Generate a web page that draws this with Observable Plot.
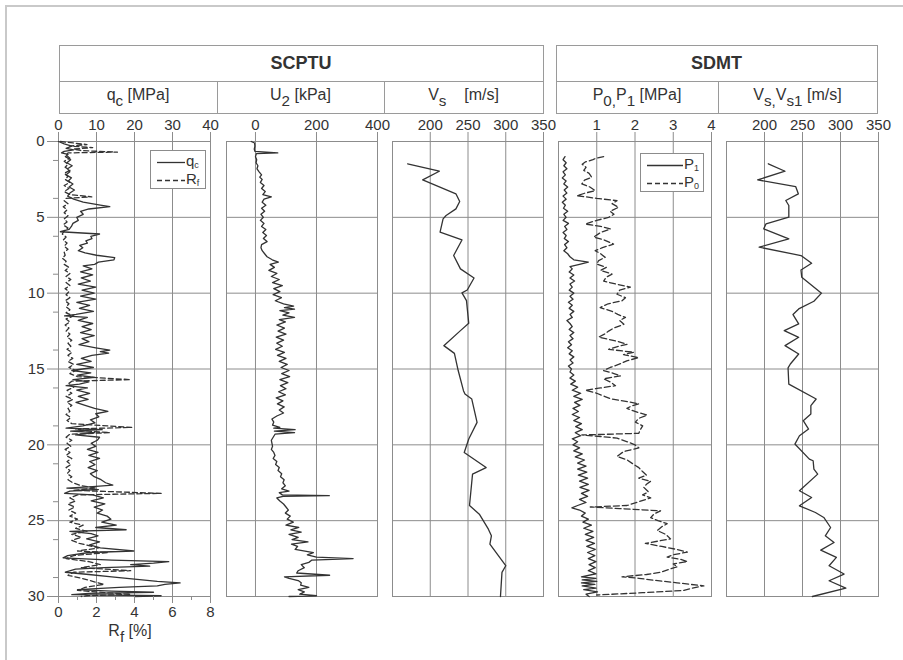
<!DOCTYPE html>
<html><head><meta charset="utf-8">
<script src="https://cdn.jsdelivr.net/npm/d3@7"></script>
<script src="https://cdn.jsdelivr.net/npm/@observablehq/plot@0.6"></script>
<style>
body{margin:0;background:#fff;}
#fig{position:relative;width:903px;height:660px;overflow:hidden;font-family:"Liberation Sans",Arial,sans-serif;color:#333;background:#fff;}
.box{position:absolute;box-sizing:border-box;}
.txt{position:absolute;display:flex;align-items:center;justify-content:center;white-space:pre;}
.txt sub{font-size:0.95em;vertical-align:-0.38em;line-height:0;}
.lg{position:absolute;box-sizing:border-box;border:1px solid #8c8c8c;background:#fff;font-size:15px;}
.lg div{position:absolute;white-space:nowrap;}
</style></head><body><div id="fig"></div>
<script>
// ---------------- DATA ----------------
const depthGrid = [5, 10, 15, 20, 25];
const depthTicks = [0, 5, 10, 15, 20, 25, 30];
const depthMinor = [1.25, 3.75, 6.25, 8.75, 11.25, 13.75, 16.25, 18.75, 21.25, 23.75, 26.25, 28.75];
const qcTicks = [0, 10, 20, 30, 40];
const rfTicks = [0, 2, 4, 6, 8];
const rfMinor = [1, 3, 5, 7];
const u2Ticks = [0, 200, 400];
const vsTicks = [200, 250, 300, 350];
const pTicks = [1, 2, 3, 4];

// [depth m, qc MPa]
const qc = [[0,0],[0.15,1.5],[0.3,3.5],[0.45,2],[0.55,4],[0.65,1.5],[0.75,0.8],[0.85,2.5],[1.0,1.8],[1.2,3.2],[1.4,2.2],[1.6,3.6],[1.8,2.4],[2.0,3.0],[2.2,2.0],[2.4,3.4],[2.6,2.6],[2.8,3.8],[3.0,2.8],[3.2,4.2],[3.4,3.0],[3.6,2.4],[3.8,4.0],[4.0,6.5],[4.2,11],[4.3,13.5],[4.45,8],[4.6,5.8],[4.8,6.5],[5.0,4.8],[5.2,5.2],[5.4,3.8],[5.6,3.4],[5.8,2.8],[5.95,0.5],[6.1,10.8],[6.25,8.5],[6.4,8.8],[6.55,7.2],[6.7,7.6],[6.85,5.6],[7.0,6.4],[7.2,5.2],[7.35,7.0],[7.5,10],[7.65,14.8],[7.8,14.6],[7.95,10.5],[8.1,9.5],[8.2,6.5],[8.4,8.8],[8.6,5.8],[8.8,9.0],[9.0,6.0],[9.2,8.4],[9.4,5.2],[9.6,9.8],[9.8,6.2],[10.0,9.4],[10.2,5.8],[10.4,9.8],[10.6,4.8],[10.8,8.2],[11.0,5.5],[11.2,9.2],[11.4,4.6],[11.5,1.6],[11.6,7.6],[11.8,5.2],[12.0,9.0],[12.2,6.2],[12.4,8.6],[12.6,5.8],[12.8,9.4],[13.0,6.2],[13.2,8.0],[13.4,5.4],[13.6,9.8],[13.75,13.5],[13.85,11],[13.95,13.2],[14.1,8.8],[14.3,6.0],[14.5,8.6],[14.7,4.8],[14.9,9.2],[15.1,3.5],[15.25,8.5],[15.4,5.0],[15.55,9.5],[15.7,3.8],[15.85,8.0],[16.0,5.5],[16.1,2.0],[16.25,7.6],[16.4,4.8],[16.6,8.2],[16.8,5.2],[17.0,7.8],[17.2,4.6],[17.4,7.0],[17.6,9.5],[17.8,13.0],[17.95,9.8],[18.15,10.6],[18.35,8.4],[18.55,9.6],[18.75,6.4],[18.9,2.0],[19.0,11.5],[19.1,3.2],[19.2,9.5],[19.35,4.5],[19.5,10.8],[19.7,10.2],[19.9,8.6],[20.1,9.8],[20.3,7.6],[20.5,10.4],[20.7,8.0],[20.9,10.8],[21.1,8.2],[21.3,9.6],[21.5,7.8],[21.7,10.2],[21.9,8.4],[22.1,9.4],[22.3,11.2],[22.5,12.4],[22.65,14.3],[22.75,9.0],[22.85,2.2],[22.95,10.5],[23.05,3.0],[23.2,1.6],[23.3,9.0],[23.5,11.8],[23.7,8.6],[23.9,12.2],[24.1,9.4],[24.3,11.6],[24.5,10.2],[24.7,12.8],[24.9,13.8],[25.1,11.4],[25.3,15.2],[25.45,9.8],[25.6,17.8],[25.7,3.0],[25.85,8.6],[26.0,10.4],[26.2,7.4],[26.4,10.8],[26.6,8.2],[26.8,11.0],[27.0,19.8],[27.1,8.0],[27.3,2.4],[27.45,1.2],[27.6,14],[27.7,29],[27.8,25],[27.9,19],[28.0,24],[28.1,12],[28.2,4.5],[28.4,1.8],[28.55,8],[28.7,14],[28.85,20],[29.0,26],[29.1,32],[29.2,28],[29.3,26],[29.4,16],[29.55,5.0],[29.65,14],[29.72,25],[29.8,8],[29.88,3.5],[29.95,27],[30.0,20]];

// [depth m, Rf %]
const rf = [[0,0.1],[0.1,0.8],[0.2,1.5],[0.3,0.6],[0.4,1.8],[0.5,0.8],[0.6,1.2],[0.7,3.1],[0.75,0.5],[0.9,0.4],[1.1,0.6],[1.3,0.3],[1.5,0.5],[1.7,0.35],[1.9,0.6],[2.1,0.3],[2.3,0.5],[2.5,0.35],[2.7,0.6],[2.9,0.3],[3.1,0.55],[3.3,0.3],[3.5,0.6],[3.65,1.75],[3.75,0.4],[3.9,0.3],[4.1,0.5],[4.3,0.25],[4.5,0.45],[4.7,0.3],[4.9,0.5],[5.1,0.3],[5.3,0.45],[5.5,0.25],[5.7,0.5],[5.9,0.3],[6.1,0.2],[6.3,0.4],[6.5,0.25],[6.7,0.45],[6.9,0.3],[7.1,0.5],[7.3,0.3],[7.5,0.35],[7.7,0.2],[7.9,0.4],[8.1,0.3],[8.3,0.55],[8.5,0.35],[8.7,0.6],[8.9,0.4],[9.1,0.65],[9.3,0.4],[9.5,0.6],[9.7,0.35],[9.9,0.55],[10.1,0.4],[10.3,0.6],[10.5,0.35],[10.7,0.55],[10.9,0.4],[11.1,0.6],[11.3,0.4],[11.5,0.8],[11.7,0.4],[11.9,0.6],[12.1,0.35],[12.3,0.55],[12.5,0.4],[12.7,0.6],[12.9,0.45],[13.1,0.7],[13.3,0.5],[13.5,0.65],[13.7,0.45],[13.9,0.7],[14.1,0.5],[14.3,0.75],[14.5,0.5],[14.7,0.8],[14.9,0.55],[15.1,0.9],[15.3,0.6],[15.5,1.0],[15.7,3.8],[15.8,0.7],[16.0,0.5],[16.2,0.8],[16.4,0.45],[16.6,0.7],[16.8,0.4],[17.0,0.75],[17.2,0.45],[17.4,0.7],[17.6,0.5],[17.8,0.6],[18.0,0.4],[18.2,0.65],[18.4,0.45],[18.6,0.7],[18.85,3.85],[18.95,0.9],[19.1,1.6],[19.2,2.7],[19.3,0.6],[19.5,0.4],[19.7,0.7],[19.9,0.45],[20.1,0.65],[20.3,0.35],[20.5,0.6],[20.7,0.4],[20.9,0.7],[21.1,0.45],[21.3,0.65],[21.5,0.4],[21.7,0.6],[21.9,0.45],[22.1,0.7],[22.3,0.5],[22.5,0.75],[22.7,1.2],[22.85,2.0],[23.0,0.8],[23.2,5.4],[23.3,1.0],[23.5,0.6],[23.7,0.9],[23.9,0.5],[24.1,0.85],[24.3,0.55],[24.5,0.9],[24.7,0.6],[24.9,1.0],[25.1,0.6],[25.3,1.3],[25.5,0.9],[25.7,1.5],[25.9,0.7],[26.1,1.2],[26.3,0.7],[26.5,1.1],[26.7,1.8],[26.8,2.1],[27.0,1.0],[27.1,2.6],[27.3,0.8],[27.5,0.4],[27.7,1.6],[27.9,2.2],[28.1,1.2],[28.3,3.8],[28.4,0.8],[28.6,0.5],[28.8,1.2],[29.0,1.8],[29.2,2.4],[29.4,1.4],[29.6,1.0],[29.75,2.5],[29.85,3.8],[29.95,1.5],[30.0,1.2]];

// [depth m, U2 kPa]
const u2 = [[0,-14],[0.1,-3],[0.3,-2],[0.5,-4],[0.65,-2],[0.75,73],[0.8,3],[1.0,0],[1.2,4],[1.4,2],[1.6,8],[1.8,5],[2.0,12],[2.2,20],[2.35,14],[2.5,22],[2.7,16],[2.9,28],[3.1,20],[3.3,32],[3.5,24],[3.65,52],[3.8,28],[4.0,22],[4.2,34],[4.4,20],[4.6,30],[4.8,18],[5.0,26],[5.2,16],[5.4,28],[5.6,20],[5.8,34],[6.0,24],[6.2,36],[6.4,26],[6.6,38],[6.8,20],[7.0,18],[7.2,22],[7.4,30],[7.6,38],[7.8,55],[7.95,75],[8.1,48],[8.3,62],[8.5,44],[8.7,70],[8.9,52],[9.1,78],[9.3,56],[9.5,88],[9.7,60],[9.9,80],[10.1,58],[10.3,85],[10.5,65],[10.7,92],[10.85,125],[10.95,95],[11.05,128],[11.15,80],[11.3,110],[11.45,90],[11.6,128],[11.75,78],[11.9,98],[12.1,70],[12.3,95],[12.5,74],[12.7,100],[12.9,68],[13.1,92],[13.3,70],[13.5,88],[13.7,66],[13.9,95],[14.1,72],[14.3,100],[14.5,78],[14.7,104],[14.9,84],[15.1,110],[15.3,86],[15.5,112],[15.7,80],[15.9,106],[16.1,82],[16.3,100],[16.5,76],[16.7,98],[16.9,68],[17.1,90],[17.3,72],[17.5,94],[17.7,78],[17.9,92],[18.1,70],[18.3,54],[18.5,60],[18.7,56],[18.85,80],[18.9,60],[19.0,130],[19.1,62],[19.2,128],[19.3,64],[19.5,58],[19.7,52],[19.9,54],[20.1,56],[20.3,52],[20.5,60],[20.7,64],[20.9,58],[21.1,70],[21.3,66],[21.5,78],[21.7,74],[21.9,86],[22.1,82],[22.3,94],[22.5,90],[22.7,98],[22.9,86],[23.05,110],[23.15,78],[23.3,88],[23.35,242],[23.4,90],[23.5,70],[23.7,80],[23.9,92],[24.1,100],[24.3,108],[24.5,98],[24.7,114],[24.9,104],[25.1,124],[25.3,100],[25.45,142],[25.6,116],[25.75,150],[25.9,110],[26.1,140],[26.25,120],[26.4,172],[26.55,118],[26.7,138],[26.9,130],[27.1,190],[27.25,170],[27.4,200],[27.5,320],[27.6,185],[27.75,175],[27.9,150],[28.1,160],[28.3,140],[28.45,135],[28.6,243],[28.7,95],[28.8,110],[28.95,140],[29.1,150],[29.25,148],[29.4,175],[29.55,140],[29.7,160],[29.85,145],[29.95,200],[30.0,110]];

// [depth m, Vs m/s] SCPTU
const vsCptu = [[1.47,170],[1.96,212],[2.53,190],[3.45,234],[3.96,239],[4.44,234],[4.88,221],[5.1,217],[5.98,213],[6.49,242],[7.52,231],[8.4,240],[9.0,258],[9.79,249],[9.98,242],[10.49,248],[11.99,251],[12.47,240],[13.46,218],[13.97,232],[15.1,237],[16.43,244],[16.65,246],[16.98,255],[18.52,262],[19.62,251],[20.5,245],[21.5,274],[21.93,256],[24.0,252],[24.57,265],[25.56,277],[26.0,281],[26.55,279],[27.97,300],[28.41,295],[30.0,293]];

// [depth m, P MPa] solid line (legend P1)
const p1 = [[1.0,0.17],[1.2,0.12],[1.4,0.2],[1.6,0.14],[1.8,0.22],[2.0,0.12],[2.2,0.18],[2.4,0.1],[2.6,0.2],[2.8,0.14],[3.0,0.24],[3.2,0.15],[3.4,0.22],[3.6,0.12],[3.8,0.2],[4.0,0.1],[4.2,0.18],[4.4,0.13],[4.6,0.24],[4.8,0.14],[5.0,0.2],[5.2,0.12],[5.4,0.26],[5.6,0.16],[5.8,0.22],[6.0,0.12],[6.2,0.2],[6.4,0.15],[6.6,0.26],[6.8,0.16],[7.0,0.22],[7.2,0.14],[7.4,0.24],[7.6,0.3],[7.8,0.4],[7.95,0.78],[8.1,0.55],[8.25,0.3],[8.4,0.36],[8.6,0.28],[8.8,0.4],[9.0,0.3],[9.2,0.42],[9.4,0.3],[9.6,0.36],[9.8,0.28],[10.0,0.4],[10.2,0.3],[10.4,0.38],[10.6,0.26],[10.8,0.36],[11.0,0.28],[11.2,0.4],[11.4,0.3],[11.6,0.36],[11.8,0.22],[12.0,0.3],[12.2,0.36],[12.4,0.28],[12.6,0.4],[12.8,0.3],[13.0,0.38],[13.2,0.26],[13.4,0.34],[13.6,0.24],[13.8,0.36],[14.0,0.28],[14.2,0.4],[14.4,0.3],[14.6,0.38],[14.8,0.26],[15.0,0.34],[15.2,0.3],[15.4,0.4],[15.6,0.3],[15.8,0.44],[16.0,0.32],[16.2,0.5],[16.4,0.36],[16.6,0.58],[16.8,0.4],[17.0,0.62],[17.2,0.42],[17.4,0.56],[17.6,0.38],[17.8,0.52],[18.0,0.36],[18.2,0.55],[18.4,0.4],[18.6,0.6],[18.8,0.45],[19.0,0.62],[19.2,0.44],[19.4,0.58],[19.6,0.36],[19.8,0.5],[20.0,0.38],[20.2,0.55],[20.4,0.4],[20.6,0.62],[20.8,0.44],[21.0,0.68],[21.2,0.5],[21.4,0.72],[21.6,0.5],[21.8,0.74],[22.0,0.52],[22.2,0.76],[22.4,0.55],[22.6,0.78],[22.8,0.56],[23.0,0.8],[23.2,0.6],[23.4,0.76],[23.6,0.55],[23.8,0.72],[24.0,0.5],[24.15,0.35],[24.3,0.55],[24.5,0.7],[24.7,0.6],[24.9,0.78],[25.1,0.64],[25.3,0.86],[25.5,0.66],[25.7,0.9],[25.9,0.7],[26.1,0.92],[26.3,0.72],[26.5,0.94],[26.7,0.74],[26.9,0.96],[27.1,0.76],[27.3,0.95],[27.5,0.78],[27.7,0.98],[27.9,0.8],[28.1,0.96],[28.3,0.78],[28.5,0.98],[28.7,0.6],[28.8,0.98],[28.9,0.62],[29.0,1.0],[29.1,0.6],[29.2,0.95],[29.3,0.62],[29.45,0.98],[29.55,0.66],[29.7,1.02],[29.85,0.72],[30.0,0.8]];

// [depth m, P MPa] dashed line (legend P0)
const p0 = [[1.0,1.18],[1.1,0.98],[1.2,0.9],[1.35,0.7],[1.5,0.62],[1.7,0.72],[1.9,0.66],[2.1,0.8],[2.36,0.87],[2.55,0.68],[2.8,0.61],[3.0,0.82],[3.24,0.96],[3.4,0.7],[3.57,0.48],[3.75,1.0],[3.9,1.53],[4.1,1.4],[4.34,1.57],[4.6,1.35],[4.8,1.45],[5.0,1.31],[5.2,1.0],[5.44,0.7],[5.6,1.1],[5.77,1.36],[6.0,1.1],[6.3,0.92],[6.5,1.2],[6.76,1.44],[7.0,1.15],[7.2,0.96],[7.4,1.1],[7.64,1.22],[7.85,1.05],[8.08,1.0],[8.3,1.25],[8.5,1.1],[8.74,1.4],[8.95,1.25],[9.2,1.18],[9.4,1.5],[9.6,1.88],[9.8,1.6],[10.07,1.53],[10.3,1.75],[10.5,1.66],[10.7,1.3],[10.95,1.09],[11.2,1.4],[11.4,1.55],[11.6,1.75],[11.8,1.6],[12.05,1.71],[12.3,1.45],[12.5,1.31],[12.7,1.2],[12.9,1.05],[13.15,1.5],[13.37,1.79],[13.55,1.5],[13.7,1.31],[13.9,1.97],[14.05,1.7],[14.25,2.1],[14.45,1.8],[14.7,1.57],[14.9,1.35],[15.1,1.18],[15.3,1.45],[15.45,1.62],[15.65,1.18],[15.85,1.35],[16.1,1.49],[16.25,1.1],[16.4,0.7],[16.6,1.0],[16.8,1.2],[16.96,1.36],[17.15,1.8],[17.3,2.1],[17.45,1.9],[17.6,1.79],[17.8,2.0],[18.04,2.32],[18.25,2.1],[18.5,2.01],[18.75,2.2],[19.0,2.14],[19.24,2.1],[19.35,0.61],[19.45,1.1],[19.56,1.53],[19.8,1.8],[20.0,2.0],[20.2,2.1],[20.45,1.7],[20.76,1.53],[21.0,1.8],[21.3,1.97],[21.5,2.1],[21.74,2.19],[22.0,2.3],[22.2,2.1],[22.4,2.41],[22.6,2.3],[22.8,2.23],[23.1,2.35],[23.3,2.2],[23.5,2.41],[23.75,2.1],[24.0,1.79],[24.1,0.83],[24.2,1.6],[24.35,2.67],[24.55,2.5],[24.8,2.41],[25.0,2.6],[25.2,2.84],[25.4,2.7],[25.65,2.58],[25.9,2.8],[26.2,2.93],[26.35,2.6],[26.5,2.27],[26.7,2.7],[26.9,3.1],[27.07,3.37],[27.25,3.0],[27.4,2.84],[27.55,3.2],[27.7,3.37],[27.85,3.0],[28.04,3.11],[28.2,2.9],[28.4,2.67],[28.55,2.3],[28.7,1.66],[28.8,2.1],[28.9,2.41],[29.1,3.1],[29.3,3.8],[29.45,3.5],[29.6,3.28],[29.75,2.2],[29.9,1.0]];

// [depth m, Vs m/s] SDMT
const vsDmt = [[1.47,205],[1.96,227],[2.53,191],[2.97,241],[3.45,244.5],[3.89,228],[4.22,232],[4.99,232],[5.43,202],[5.76,199],[6.42,232],[6.97,193],[7.52,248],[8.03,262],[8.47,248],[8.95,249],[10.0,275],[10.53,265],[11.04,245],[11.41,237.5],[12.03,245],[12.47,226],[12.91,245],[13.46,227],[14.01,245],[14.67,234],[14.93,231],[16.0,232],[16.98,268],[17.42,261],[17.97,261],[18.41,251],[18.96,258],[19.4,246],[19.95,240],[20.94,259],[21.05,264],[21.6,265],[21.93,270],[23.03,246],[23.47,262],[24.02,246],[24.46,267],[24.79,278],[25.45,287],[26.0,280],[26.44,291.5],[26.94,274],[27.42,294.6],[27.97,285],[28.52,304.7],[28.96,285],[29.45,307],[30.0,263]];

// ---------------- LAYOUT ----------------
const fig = document.getElementById("fig");
const FONT = "Liberation Sans, Arial, sans-serif";
const GRID = "#8c8c8c";
const INK = "#333";
const TOP = 100, MT = 41, INNER = 455;

function add(html, style, cls) {
  const d = document.createElement("div");
  d.className = cls || "box";
  Object.assign(d.style, style);
  d.innerHTML = html ? (cls === "txt" ? "<span>" + html + "</span>" : html) : "";
  fig.appendChild(d);
  return d;
}

// outer border
add("", {left:"5px", top:"5px", width:"910px", height:"670px", borderLeft:"2px solid #c9c9c9", borderTop:"2px solid #c9c9c9"});

// header tables
function header(x0, x1, title, cells) {
  add("", {left:x0+"px", top:"45px", width:(x1-x0+1)+"px", height:"69px", border:"1px solid #9a9a9a"});
  add("", {left:x0+"px", top:"81px", width:(x1-x0)+"px", height:"1px", background:"#9a9a9a"});
  add(title, {left:x0+"px", top:"46px", width:(x1-x0)+"px", height:"35px", fontWeight:"bold", fontSize:"18px", color:"#333"}, "txt");
  cells.forEach(([a, b, html], i) => {
    if (i > 0) add("", {left:a+"px", top:"81px", width:"1px", height:"32px", background:"#9a9a9a"});
    add(html, {left:a+"px", top:"81px", width:(b-a)+"px", height:"28px", fontSize:"16px", color:"#333"}, "txt");
  });
}
header(59, 543, "SCPTU", [[59,217,"q<sub>c</sub> [MPa]"],[217,384,"U<sub>2</sub> [kPa]"],[384,543,"V<sub>s</sub>    [m/s]"]]);
header(556, 877, "SDMT", [[556,718,"P<sub>0,</sub>P<sub>1</sub> [MPa]"],[718,877,"V<sub>s,</sub>V<sub>s1</sub> [m/s]"]]);

function panel({left, frameL, frameR, mR = 14, mB = 10, xDomain, marks}) {
  const mL = frameL - left;
  const width = frameR - left + mR;
  const height = MT + INNER + mB;
  const svg = Plot.plot({
    width, height, marginLeft: mL, marginRight: mR, marginTop: MT, marginBottom: mB,
    style: {fontFamily: FONT, fontSize: "15px", color: INK, background: "transparent", overflow: "visible"},
    x: {domain: xDomain, axis: null},
    y: {domain: [0, 30], reverse: true, axis: null},
    marks
  });
  svg.style.position = "absolute";
  svg.style.left = left + "px";
  svg.style.top = TOP + "px";
  fig.appendChild(svg);
  return svg;
}
const baseMarks = (gridVals, ticks) => [
  Plot.gridX(gridVals, {stroke: GRID, strokeOpacity: 1, strokeWidth: 1}),
  Plot.gridY(depthGrid, {stroke: GRID, strokeOpacity: 1, strokeWidth: 1}),
  Plot.frame({stroke: GRID, strokeWidth: 1}),
  Plot.axisX(ticks, {anchor: "top", tickSize: 10, tickPadding: 2, label: null, stroke: GRID, fill: INK})
];
const prof = (data, opts = {}) => Plot.line(data, {x: d => d[1], y: d => d[0], stroke: INK, strokeWidth: 1.3, ...opts});

// Panel 1: qc (top axis) with depth axis
panel({left: 0, frameL: 58, frameR: 210, mR: 12, xDomain: [0, 40], marks: [
  ...baseMarks([10, 20, 30], qcTicks),
  Plot.axisY(depthTicks, {anchor: "left", tickSize: 11, tickPadding: 3, label: null, stroke: GRID, fill: INK}),
  Plot.axisY(depthMinor, {anchor: "left", tickSize: 5, tickFormat: () => "", label: null, stroke: GRID}),
  prof(qc)
]});
// Panel 1 overlay: Rf (bottom axis)
panel({left: 0, frameL: 58, frameR: 210, mR: 12, mB: 60, xDomain: [0, 8], marks: [
  Plot.axisX(rfTicks, {anchor: "bottom", tickSize: 7, tickPadding: 3, label: null, stroke: GRID, fill: INK}),
  Plot.axisX(rfMinor, {anchor: "bottom", tickSize: 4, tickFormat: () => "", label: null, stroke: GRID}),
  prof(rf, {strokeDasharray: "5,3"})
]});
// Panel 2: U2
panel({left: 216, frameL: 226, frameR: 377, xDomain: [-95, 400], marks: [
  ...baseMarks([0, 200], u2Ticks),
  prof(u2)
]});
// Panel 3: Vs SCPTU
panel({left: 382, frameL: 392, frameR: 543, xDomain: [150, 350], marks: [
  ...baseMarks([200, 250, 300], vsTicks),
  prof(vsCptu)
]});
// Panel 4: P0, P1
panel({left: 548, frameL: 558, frameR: 711, xDomain: [0, 4], marks: [
  ...baseMarks([1, 2, 3], pTicks),
  prof(p1),
  prof(p0, {strokeDasharray: "6,3"})
]});
// Panel 5: Vs SDMT
panel({left: 716, frameL: 726, frameR: 878, xDomain: [150, 350], marks: [
  ...baseMarks([200, 250, 300], vsTicks),
  prof(vsDmt)
]});

// bottom axis title
add("R<sub>f</sub> [%]", {left: "90px", top: "620px", width: "80px", height: "22px", fontSize: "16px", color: INK}, "txt");

// legends
function legend(x, y, w, h, rows) {
  const lg = add("", {left: x + "px", top: y + "px", width: w + "px", height: h + "px"}, "lg");
  rows.forEach(([label, dash], i) => {
    const cy = 10 + i * 18;
    const r = document.createElement("div");
    r.style.left = "6px"; r.style.top = (cy - 9) + "px";
    r.innerHTML = `<svg width="${w - 28}" height="18" style="vertical-align:middle"><line x1="0" x2="${w - 28}" y1="9.5" y2="9.5" stroke="${INK}" stroke-width="1.3" ${dash ? 'stroke-dasharray="5,3"' : ""}/></svg>`;
    lg.appendChild(r);
    const t = document.createElement("div");
    t.style.left = (w - 21) + "px"; t.style.top = (cy - 9) + "px"; t.style.lineHeight = "18px";
    t.innerHTML = label;
    lg.appendChild(t);
  });
}
const sm = (s) => `<sub style='font-size:0.6em;vertical-align:-0.2em'>${s}</sub>`;
legend(150, 150, 56, 39, [["q" + sm("c"), false], ["R" + sm("f"), true]]);
legend(640, 153, 64, 39, [["P" + sm("1"), false], ["P" + sm("0"), true]]);
</script></body></html>
